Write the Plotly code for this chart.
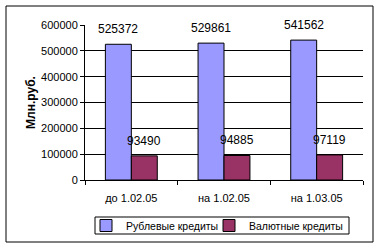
import plotly.graph_objects as go

categories = ["до 1.02.05", "на 1.02.05", "на 1.03.05"]
ruble = [525372, 529861, 541562]
currency = [93490, 94885, 97119]
series_names = ["Рублевые кредиты", "Валютные кредиты"]
y_ticks = [0, 100000, 200000, 300000, 400000, 500000, 600000]

W, H = 380, 249
L, R, T, B = 85, 17, 25, 69
pw, ph = W - L - R, H - T - B
FONT = "Liberation Sans, Arial, sans-serif"

def px(x):
    return (x - L) / pw

def py(y):
    return (H - B - y) / ph

fig = go.Figure()
fig.add_trace(go.Bar(x=categories, y=ruble, name=series_names[0], legend="legend",
                     marker=dict(color="#9999FF", line=dict(color="black", width=1))))
fig.add_trace(go.Bar(x=categories, y=currency, name=series_names[1], legend="legend2",
                     marker=dict(color="#993366", line=dict(color="black", width=1))))

annotations = []
for series, shift in ((ruble, -13), (currency, 13)):
    for c, v in zip(categories, series):
        annotations.append(dict(x=c, y=v, text=str(v), showarrow=False, xref="x", yref="y",
                                xshift=shift, yshift=6, yanchor="bottom",
                                font=dict(size=12, color="black", family=FONT)))

leg_y = (H - 225.5) / H
leg_common = dict(orientation="h", xref="container", yref="container", xanchor="left",
                  y=leg_y, yanchor="middle", borderwidth=0, bgcolor="rgba(0,0,0,0)",
                  font=dict(size=10.5, color="black", family=FONT), itemwidth=30)

fig.update_layout(
    width=W, height=H,
    margin=dict(l=L, r=R, t=T, b=B, autoexpand=False),
    paper_bgcolor="white", plot_bgcolor="white",
    barmode="group", bargap=0.44, bargroupgap=0,
    font=dict(family=FONT, size=11, color="black"),
    showlegend=True,
    legend=dict(x=86 / W, **leg_common),
    legend2=dict(x=209 / W, **leg_common),
    annotations=annotations,
    shapes=[dict(type="rect", xref="paper", yref="paper",
                 x0=px(6), x1=px(373), y0=py(242), y1=py(6),
                 line=dict(color="black", width=1), layer="below"),
            dict(type="rect", xref="paper", yref="paper",
                 x0=px(95), x1=px(349), y0=py(234), y1=py(217),
                 line=dict(color="black", width=1), fillcolor="white", layer="below")],
)
fig.update_xaxes(showline=True, linecolor="black", linewidth=1, ticks="outside",
                 tickson="boundaries", ticklen=4, tickcolor="black",
                 tickfont=dict(size=11), showgrid=False, ticklabelstandoff=8)
fig.update_yaxes(range=[0, 600000], tickvals=y_ticks, ticktext=[str(v) for v in y_ticks],
                 showline=True, linecolor="black", linewidth=1, ticks="outside", ticklen=4,
                 tickcolor="black", showgrid=True, gridcolor="black", gridwidth=1,
                 zeroline=False, tickfont=dict(size=11),
                 title=dict(text="<b>Млн.руб.</b>", font=dict(size=12), standoff=2))

fig.write_html("out.html")
